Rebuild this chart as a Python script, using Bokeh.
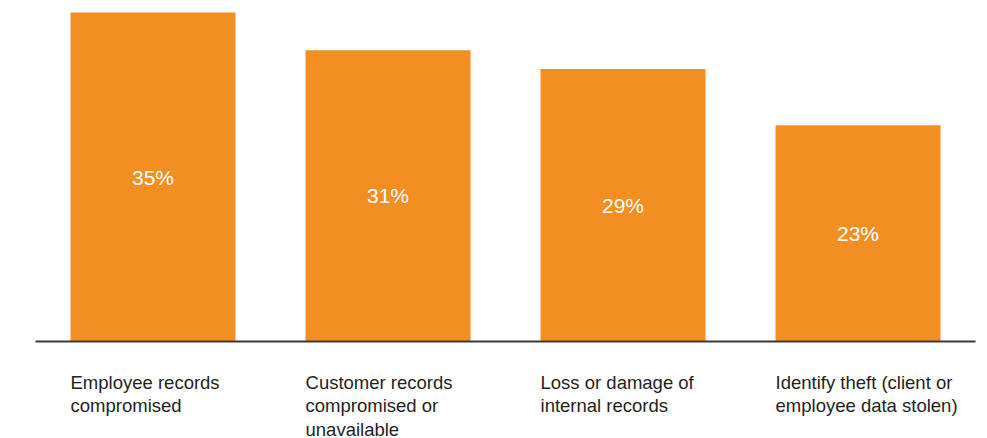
from bokeh.plotting import figure
from bokeh.models import ColumnDataSource, Range1d
from bokeh.core.properties import value
from bokeh.embed import file_html
from bokeh.resources import INLINE

categories = [
    "Employee records\ncompromised",
    "Customer records\ncompromised or\nunavailable",
    "Loss or damage of\ninternal records",
    "Identify theft (client or\nemployee data stolen)",
]
values = [35, 31, 29, 23]
value_labels = ["35%", "31%", "29%", "23%"]

BAR_W = 0.702
idx = list(range(len(values)))

src = ColumnDataSource(dict(
    x=idx,
    top=values,
    mid=[v / 2 for v in values],
    lab=value_labels,
    cat=categories,
    left=[i - BAR_W / 2 for i in idx],
    cat_y=[-3.2] * len(values),
))

p = figure(width=987, height=438, output_backend="svg", toolbar_location=None,
           x_range=Range1d(-0.649, 3.551), y_range=Range1d(-10.32, 36.28),
           min_border=0, min_border_left=0, min_border_right=0,
           min_border_top=0, min_border_bottom=0)
p.axis.visible = False
p.grid.visible = False
p.outline_line_color = None
p.background_fill_color = "white"

p.vbar(x="x", top="top", bottom=0, width=BAR_W, source=src,
       fill_color="#F28E22", line_color=None)

p.line([-0.5, len(values) - 0.5], [0, 0], line_color="#3a3a3a", line_width=2)

p.text(x="x", y="mid", text="lab", source=src, text_color="white",
       text_font=value("Liberation Sans"), text_font_size="21px",
       text_align="center", text_baseline="middle")

p.text(x="left", y="cat_y", text="cat", source=src, text_color="#231F20",
       text_font=value("Liberation Sans"), text_font_size="18.5px",
       text_align="left", text_baseline="top", text_line_height=1.12)

open("out.html", "w").write(file_html(p, INLINE))
